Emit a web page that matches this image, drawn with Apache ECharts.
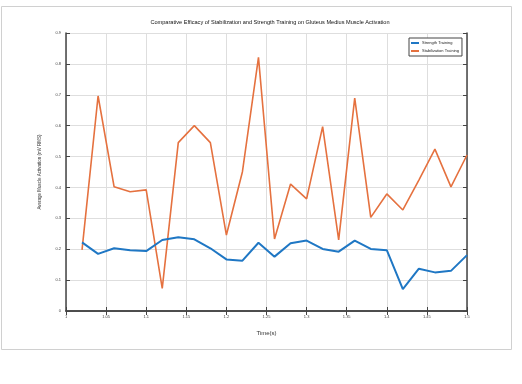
<!DOCTYPE html>
<html><head><meta charset="utf-8">
<script src="https://cdn.jsdelivr.net/npm/echarts@6/dist/echarts.min.js"></script>
<style>html,body{margin:0;padding:0;background:#fff}#c{width:522px;height:384px}</style>
</head><body><div id="c"></div>
<script>
const time = [1.02,1.04,1.06,1.08,1.10,1.12,1.14,1.16,1.18,1.20,1.22,1.24,1.26,1.28,1.30,1.32,1.34,1.36,1.38,1.40,1.42,1.44,1.46,1.48,1.50];
const strength = [0.222,0.185,0.203,0.197,0.194,0.230,0.239,0.232,0.203,0.167,0.163,0.221,0.176,0.219,0.228,0.201,0.192,0.228,0.201,0.197,0.071,0.137,0.125,0.130,0.181];
const stabilization = [0.198,0.696,0.402,0.386,0.392,0.073,0.545,0.600,0.545,0.246,0.451,0.821,0.233,0.411,0.363,0.597,0.230,0.689,0.303,0.379,0.327,0.424,0.524,0.402,0.505];
const seriesNames = ['Strength Training','Stabilization Training'];
const titleText = 'Comparative Efficacy of Stabilization and Strength Training on Gluteus Medius Muscle Activation';
const xName = 'Time(s)';
const yName = 'Average Muscle Activation (mV RMS)';

const chart = echarts.init(document.getElementById('c'));
const pair = a => time.map((t,i)=>[t,a[i]]);
const fmt = v => String(parseFloat(v.toFixed(2)));
const axisCommon = {
  axisLine:{show:true,lineStyle:{color:'#444',width:1.5}},
  axisTick:{show:true,inside:true,length:4,lineStyle:{color:'#444',width:1}},
};
chart.setOption({
  animation:false,
  backgroundColor:'#fff',
  graphic:[{type:'rect',shape:{x:1.5,y:6.5,width:510,height:343},style:{fill:'none',stroke:'#d0d0d0',lineWidth:1},z:-1}],
  title:{text:titleText,left:265,top:14,textAlign:'center',textStyle:{fontSize:5.6,fontWeight:'normal',color:'#111',fontFamily:'Liberation Sans'}},
  grid:{left:66,right:55,top:33,bottom:73},
  legend:{data:seriesNames,orient:'vertical',left:409,top:38,itemWidth:8,itemHeight:2,itemGap:4,padding:[3,3,3,2],
    backgroundColor:'#fff',borderColor:'#444',borderWidth:1,
    textStyle:{fontSize:4,color:'#222',padding:[0,0,0,-2]},icon:'rect'},
  xAxis:[
    Object.assign({type:'value',min:1,max:1.5,interval:0.05,name:xName,nameLocation:'middle',nameGap:19,
      nameTextStyle:{fontSize:6,color:'#333'},
      axisLabel:{fontSize:4,color:'#444',margin:4,formatter:fmt},
      splitLine:{show:true,lineStyle:{color:'#dedede',width:1}}},axisCommon),
    Object.assign({type:'value',position:'top',min:1,max:1.5,interval:0.05,axisLabel:{show:false},splitLine:{show:false}},axisCommon)
  ],
  yAxis:[
    Object.assign({type:'value',min:0,max:0.9,interval:0.1,name:yName,nameLocation:'middle',nameGap:24,
      nameTextStyle:{fontSize:4.5,color:'#333'},
      axisLabel:{fontSize:4,color:'#444',margin:5,formatter:fmt},
      splitLine:{show:true,lineStyle:{color:'#dedede',width:1}}},axisCommon),
    Object.assign({type:'value',position:'right',min:0,max:0.9,interval:0.1,axisLabel:{show:false},splitLine:{show:false}},axisCommon)
  ],
  series:[
    {name:seriesNames[0],type:'line',data:pair(strength),showSymbol:false,lineStyle:{color:'#1f77c4',width:2},itemStyle:{color:'#1f77c4'},z:3},
    {name:seriesNames[1],type:'line',data:pair(stabilization),showSymbol:false,lineStyle:{color:'#e5713f',width:1.6},itemStyle:{color:'#e5713f'},z:2}
  ]
});
</script></body></html>
